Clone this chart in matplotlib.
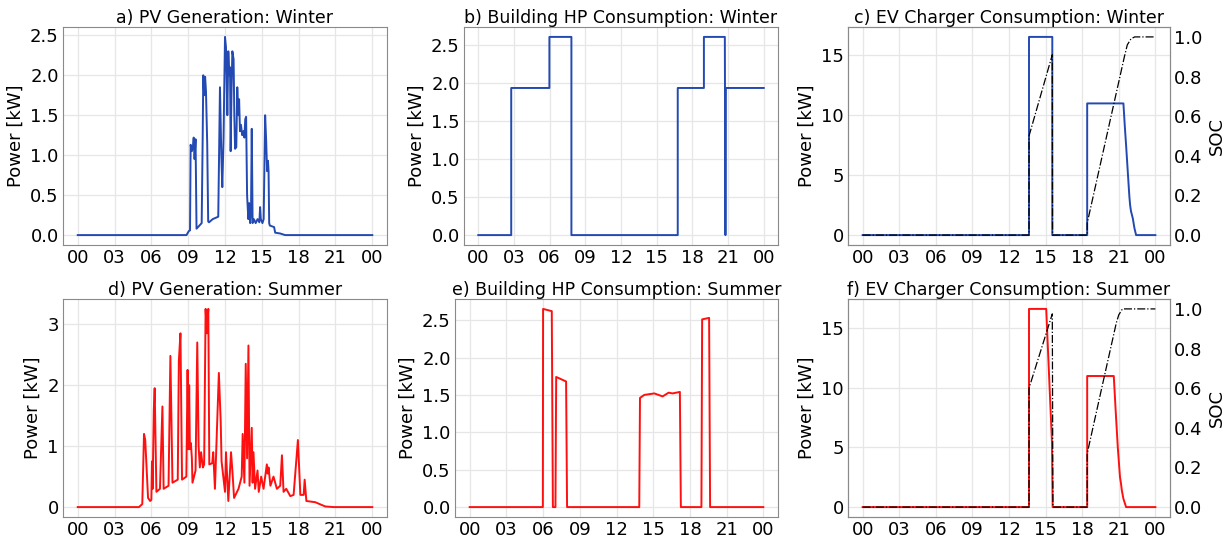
import matplotlib
matplotlib.use('Agg')
import matplotlib.pyplot as plt
import numpy as np

# --- data (hour of day, value) ---
# a) PV generation winter [kW]
pv_w_h = [0, 8.86, 9.05, 9.15, 9.2, 9.3, 9.38, 9.45, 9.52, 9.6, 9.68, 10.1, 10.18, 10.23, 10.3, 10.38,
          10.45, 10.55, 10.63, 10.7, 11.0, 11.45, 11.59, 11.7, 11.78, 11.88, 12.0, 12.08, 12.13, 12.19,
          12.27, 12.35, 12.41, 12.46, 12.53, 12.6, 12.7, 12.76, 12.82, 12.92, 13.0, 13.08, 13.15, 13.22,
          13.3, 13.4, 13.5, 13.58, 13.65, 13.72, 13.8, 13.85, 13.9, 13.97, 14.05, 14.12, 14.18, 14.25,
          14.35, 14.5, 14.65, 14.8, 14.86, 14.92, 15.05, 15.15, 15.27, 15.35, 15.43, 15.5, 15.55, 15.6,
          15.65, 16.0, 16.09, 16.5, 16.9, 24]
pv_w = [0, 0, 0.05, 0.06, 1.13, 1.05, 1.1, 1.22, 0.95, 1.2, 0.08, 0.15, 1.2, 2.0, 1.75, 1.98,
        1.8, 1.15, 0.17, 0.16, 0.2, 0.23, 1.85, 1.0, 0.6, 1.2, 2.48, 2.35, 2.0, 1.5,
        2.3, 2.0, 2.1, 1.05, 1.8, 2.3, 2.2, 1.5, 1.08, 1.1, 1.85, 1.5, 1.7, 1.3,
        1.38, 1.25, 1.3, 1.22, 1.45, 1.48, 0.5, 0.35, 0.2, 0.4, 0.15, 0.3, 1.33, 0.15,
        0.2, 0.15, 0.2, 0.16, 0.35, 0.2, 0.15, 0.2, 1.5, 1.2, 0.8, 0.93, 0.8, 0.15,
        0.12, 0.1, 0.03, 0.02, 0.0, 0]

# d) PV generation summer [kW]
pv_s_h = [0, 4.99, 5.26, 5.4, 5.5, 5.73, 5.9, 6.0, 6.05, 6.1, 6.2, 6.27, 6.41, 6.7, 6.9, 7.0, 7.4,
          7.55, 7.72, 8.15, 8.24, 8.37, 8.5, 8.85, 8.95, 9.02, 9.08, 9.14, 9.22, 9.3, 9.35, 9.6, 9.74,
          9.85, 9.95, 10.05, 10.2, 10.3, 10.42, 10.52, 10.64, 10.72, 10.96, 11.04, 11.18, 11.5,
          11.65, 11.72, 12.0, 12.08, 12.27, 12.49, 12.6, 12.74, 13.1, 13.36, 13.44, 13.58, 13.69,
          13.8, 13.91, 14.0, 14.18, 14.25, 14.32, 14.45, 14.65, 14.75, 14.95, 15.14, 15.41, 15.48,
          15.55, 15.7, 15.95, 16.23, 16.5, 16.64, 16.77, 16.99, 17.32, 17.59, 17.94, 18.14, 18.41,
          18.49, 18.63, 19.36, 19.7, 20.18, 20.86, 24]
pv_s = [0, 0, 0.05, 1.2, 1.1, 0.15, 0.1, 0.12, 0.75, 0.3, 1.6, 1.95, 0.25, 0.3, 1.65, 0.3, 0.35,
        2.48, 0.4, 0.45, 2.4, 2.85, 0.45, 0.5, 2.25, 0.95, 2.0, 0.95, 1.05, 0.8, 0.4, 0.6, 2.7,
        1.0, 0.65, 0.9, 0.65, 0.7, 3.25, 2.85, 3.25, 0.7, 0.72, 0.9, 0.3, 2.2,
        1.4, 0.75, 0.25, 0.9, 0.1, 0.9, 0.6, 0.15, 0.3, 0.5, 1.2, 0.4, 2.35,
        0.8, 2.65, 0.35, 1.3, 0.4, 0.9, 0.3, 0.6, 0.25, 0.5, 0.3, 0.7, 0.55,
        0.65, 0.35, 0.5, 0.3, 0.35, 0.85, 0.25, 0.3, 0.18, 0.2, 1.1, 0.2, 0.2,
        0.45, 0.1, 0.08, 0.05, 0.01, 0.0, 0]

# b) building heat pump winter [kW]
hp_w_h = [0, 2.77, 2.77, 5.98, 5.98, 7.83, 7.83, 16.77, 16.77, 18.97, 18.97, 20.73, 20.78, 20.82, 24]
hp_w = [0, 0, 1.93, 1.93, 2.6, 2.6, 0, 0, 1.93, 1.93, 2.6, 2.6, 0, 1.93, 1.93]

# e) building heat pump summer [kW]
hp_s_h = [0, 5.98, 6.0, 6.71, 6.8, 7.01, 7.07, 7.88, 7.96, 13.86, 13.92, 14.27, 15.09, 15.77,
          16.26, 16.58, 17.18, 17.26, 18.94, 19.0, 19.57, 19.65, 24]
hp_s = [0, 0, 2.65, 2.62, 0, 0, 1.74, 1.68, 0, 0, 1.46, 1.5, 1.52, 1.48,
        1.53, 1.52, 1.54, 0, 0, 2.51, 2.53, 0, 0]

# c) EV charger winter [kW] and SOC
ev_w_h = [0, 13.64, 13.64, 15.55, 15.55, 18.41, 18.41, 21.38, 21.5, 21.6, 21.75, 21.87, 21.93,
          22.0, 22.15, 22.28, 22.42, 24]
ev_w = [0, 0, 16.54, 16.54, 0, 0, 10.99, 10.99, 9.0, 7.5, 5.1, 3.2, 2.5, 2.0, 1.4, 0.6, 0, 0]
soc_w_h = [0, 13.64, 13.64, 15.55, 15.57, 18.41, 18.41, 20.37, 21.46, 21.7, 22.0, 22.3, 24]
soc_w = [0, 0, 0.5, 0.91, 0, 0, 0.06, 0.6, 0.9, 0.96, 0.99, 1.0, 1.0]

# f) EV charger summer [kW] and SOC
ev_s_h = [0, 13.64, 13.64, 15.05, 15.52, 15.58, 18.41, 18.41, 20.59, 20.75, 20.92, 21.1, 21.18,
          21.25, 21.38, 21.6, 24]
ev_s = [0, 0, 16.6, 16.6, 5.5, 0, 0, 10.98, 10.98, 8.0, 5.0, 2.5, 2.0, 1.4, 0.7, 0, 0]
soc_s_h = [0, 13.64, 13.64, 15.55, 15.6, 18.41, 18.41, 19.6, 20.8, 21.0, 21.3, 24]
soc_s = [0, 0, 0.6, 0.975, 0, 0, 0.27, 0.6, 0.93, 0.97, 1.0, 1.0]

hour_ticks = [0, 3, 6, 9, 12, 15, 18, 21, 24]
hour_labels = ['00', '03', '06', '09', '12', '15', '18', '21', '00']

blue = '#2349b2'
red = '#ff1010'
fs = 12.5
tfs = 13

W, H = 1227, 539
fig = plt.figure(figsize=(W / 100, H / 100), dpi=100)


def box(l, r, t, b):
    return [l / W, 1 - b / H, (r - l) / W, (b - t) / H]


def style(ax, title):
    ax.set_title(title, fontsize=fs, pad=3)
    ax.set_xticks(hour_ticks)
    ax.set_xticklabels(hour_labels)
    ax.tick_params(labelsize=tfs, length=0, pad=3)
    ax.grid(True, color='#e6e6e6', linewidth=0.9)
    ax.set_axisbelow(True)
    for s in ax.spines.values():
        s.set_color('#8a8a8a')
    ax.set_ylabel('Power [kW]', fontsize=tfs, labelpad=4)


panels = [
    (box(63, 387, 27, 245), pv_w_h, pv_w, blue, 'a) PV Generation: Winter', [0, 0.5, 1.0, 1.5, 2.0, 2.5], None),
    (box(464, 778, 27, 245), hp_w_h, hp_w, blue, 'b) Building HP Consumption: Winter', [0, 0.5, 1.0, 1.5, 2.0, 2.5], None),
    (box(848, 1170, 27, 245), ev_w_h, ev_w, blue, 'c) EV Charger Consumption: Winter', [0, 5, 10, 15], (soc_w_h, soc_w)),
    (box(63, 387, 299, 517), pv_s_h, pv_s, red, 'd) PV Generation: Summer', [0, 1, 2, 3], None),
    (box(455, 778, 299, 517), hp_s_h, hp_s, red, 'e) Building HP Consumption: Summer', [0, 0.5, 1.0, 1.5, 2.0, 2.5], None),
    (box(848, 1170, 299, 517), ev_s_h, ev_s, red, 'f) EV Charger Consumption: Summer', [0, 5, 10, 15], (soc_s_h, soc_s)),
]

for pos, xh, yv, col, title, yt, soc in panels:
    ax = fig.add_axes(pos)
    ax.plot(xh, yv, color=col, linewidth=1.4)
    style(ax, title)
    ax.set_yticks(yt)
    if yt[1] == 0.5:
        ax.set_yticklabels(['%.1f' % v for v in yt])
    if soc is not None:
        ax2 = ax.twinx()
        ax2.plot(soc[0], soc[1], color='black', linestyle='-.', linewidth=0.9)
        ax2.set_yticks([0, 0.2, 0.4, 0.6, 0.8, 1.0])
        ax2.set_yticklabels(['0.0', '0.2', '0.4', '0.6', '0.8', '1.0'])
        ax2.tick_params(labelsize=tfs, length=0, pad=3)
        ax2.set_ylabel('SOC', fontsize=tfs, labelpad=4)
        for s in ax2.spines.values():
            s.set_color('#8a8a8a')

fig.savefig('out.png', dpi=100)
